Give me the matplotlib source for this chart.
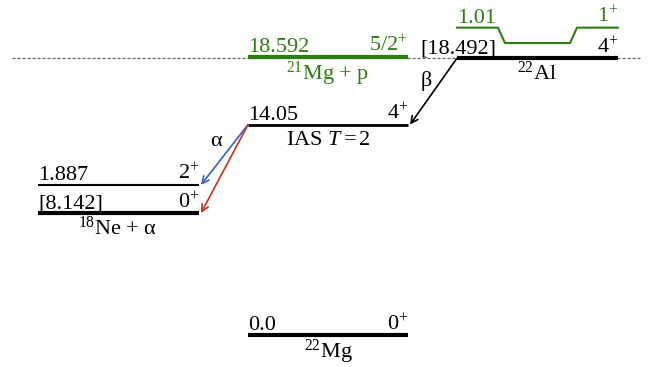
import matplotlib.pyplot as plt

plt.rcParams['font.family'] = ['Liberation Serif', 'DejaVu Serif']
plt.rcParams['mathtext.fontset'] = 'custom'
plt.rcParams['mathtext.rm'] = 'Liberation Serif'
plt.rcParams['mathtext.it'] = 'Liberation Serif:italic'

# ===========================================================
#        Level energies (MeV, relative to 22Mg ground state)
# ===========================================================
mg22_gs = 0.0          # 22Mg ground state
ne18_alpha = 8.142     # 18Ne + alpha threshold
ne18_2plus = 1.887     # 18Ne first 2+ (above threshold)
ias = 14.05            # IAS T=2 in 22Mg
mg21_p = 18.592        # 21Mg + p threshold
al22_gs = 18.492       # 22Al ground state (Q_EC)
al22_1plus = 1.01      # 22Al 1+ excited state

green = '#2e7d12'
blue = '#3a5fcd'
red = '#c0331f'
FS = 16

fig = plt.figure(figsize=(6.51, 3.67), dpi=100)
ax = fig.add_axes([0, 0, 1, 1])
ax.axis('off')
scale = 14.97  # px per MeV
ax.set_xlim(0, 651)
ax.set_ylim((335 - 367) / scale, 335 / scale)

# column extents (px)
colA = (38, 199)
colB = (248, 408)
colC = (457, 618)
thick = 3.0
thin = 1.5
up = 0.33   # text baseline above a level
dn = 0.42   # text top below a level
dn_sup = 0.22  # same, for labels starting with a superscript


def level(col, e, lw, color='k'):
    ax.plot(col, [e, e], color=color, lw=lw, solid_capstyle='butt')


# reference line at Q value
ax.plot([12, 640], [al22_gs, al22_gs], color='0.4', lw=0.9,
        dashes=(2.5, 1.5))

# ---------------- 22Mg ----------------
level(colB, mg22_gs, thick)
ax.text(colB[0], mg22_gs + up, '0.0', fontsize=FS, va='baseline')
ax.text(colB[1], mg22_gs + up, '$0^{+}$', fontsize=FS, va='baseline',
        ha='right')
ax.text(sum(colB) / 2, mg22_gs - dn_sup, '$^{22}$Mg', fontsize=FS,
        va='top', ha='center')

# ---------------- IAS ----------------
level(colB, ias, 2.0)
ax.text(colB[0], ias + up, '14.05', fontsize=FS, va='baseline')
ax.text(colB[1], ias + up, '$4^{+}$', fontsize=FS, va='baseline',
        ha='right')
ax.text(sum(colB) / 2, ias - dn, 'IAS $T = 2$', fontsize=FS, va='top',
        ha='center')

# ---------------- 21Mg + p ----------------
level(colB, mg21_p, thick, green)
ax.text(colB[0], mg21_p + up, '18.592', fontsize=FS, va='baseline',
        color=green)
ax.text(colB[1], mg21_p + up, '$5/2^{+}$', fontsize=FS, va='baseline',
        ha='right', color=green)
ax.text(sum(colB) / 2, mg21_p - dn_sup, '$^{21}$Mg + p', fontsize=FS,
        va='top', ha='center', color=green)

# ---------------- 18Ne + alpha ----------------
e2 = ne18_alpha + ne18_2plus
level(colA, ne18_alpha, thick)
level(colA, e2, thin)
ax.text(colA[0], ne18_alpha + up, '[8.142]', fontsize=FS, va='baseline')
ax.text(colA[1], ne18_alpha + up, '$0^{+}$', fontsize=FS, va='baseline',
        ha='right')
ax.text(colA[0], e2 + up, '1.887', fontsize=FS, va='baseline')
ax.text(colA[1], e2 + up, '$2^{+}$', fontsize=FS, va='baseline',
        ha='right')
ax.text(118, ne18_alpha - dn_sup, '$^{18}$Ne + α', fontsize=FS, va='top',
        ha='center')

# ---------------- 22Al ----------------
level(colC, al22_gs, thick)
ax.text(420, al22_gs + up, '[18.492]', fontsize=FS, va='baseline')
ax.text(colC[1], al22_gs + up, '$4^{+}$', fontsize=FS, va='baseline',
        ha='right')
ax.text(537, al22_gs - dn_sup, '$^{22}$Al', fontsize=FS, va='top',
        ha='center')

e1 = al22_gs + al22_1plus
raise_ = 1.03
ax.plot([457, 498, 505, 570, 577, 618],
        [e1 + raise_, e1 + raise_, e1, e1, e1 + raise_, e1 + raise_],
        color=green, lw=thin)
ax.text(colC[0], e1 + raise_ + up, '1.01', fontsize=FS, va='baseline',
        color=green)
ax.text(colC[1], e1 + raise_ + up, '$1^{+}$', fontsize=FS, va='baseline',
        ha='right', color=green)

# ---------------- decays ----------------
arrow = dict(arrowstyle='->,head_length=0.5,head_width=0.25', lw=1.2,
             shrinkA=0, shrinkB=0)
ax.annotate('', xy=(410, ias), xytext=(colC[0], al22_gs),
            arrowprops=dict(arrow, color='k'))
ax.annotate('', xy=(201, e2), xytext=(colB[0], ias),
            arrowprops=dict(arrow, color=blue))
ax.annotate('', xy=(201, ne18_alpha), xytext=(colB[0], ias),
            arrowprops=dict(arrow, color=red))
ax.text(426, 17.0, 'β', fontsize=FS, ha='center', va='center')
ax.text(216, 12.9, 'α', fontsize=FS, ha='center', va='center')

fig.savefig('out.png', dpi=100)
